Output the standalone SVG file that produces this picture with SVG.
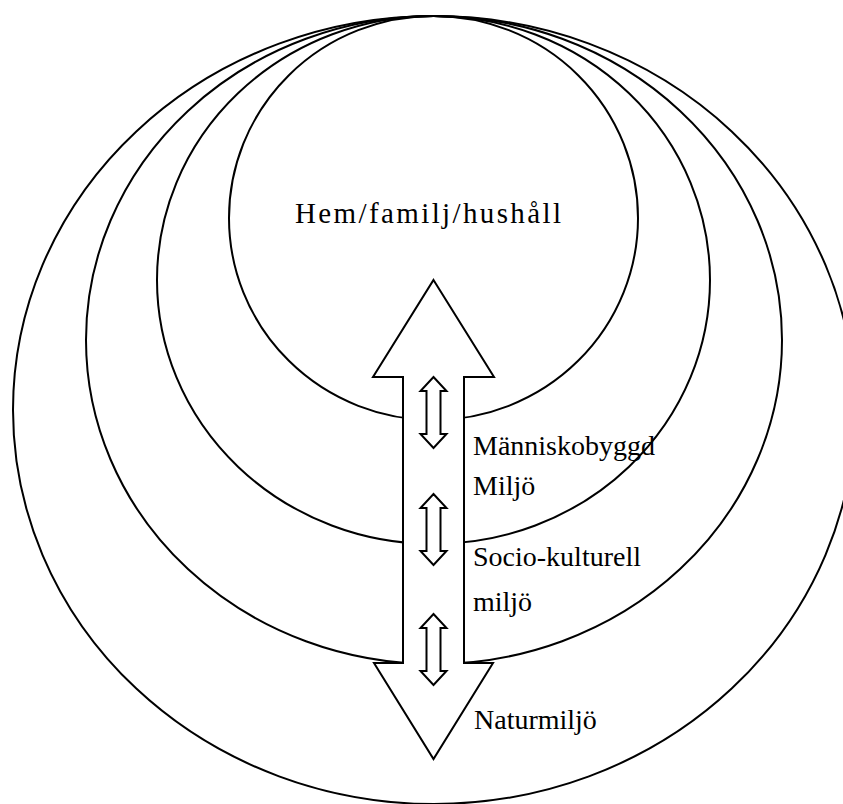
<svg xmlns="http://www.w3.org/2000/svg" xmlns:xlink="http://www.w3.org/1999/xlink" width="843" height="804" viewBox="0 0 843 804">
<style>
.ring{fill:none;stroke:#000;stroke-width:2}
.arr{fill:#fff;stroke:#000;stroke-width:2;stroke-linejoin:miter}
.lbl{font-family:"Liberation Serif","DejaVu Serif",serif;font-size:28px;fill:#000}
</style>
<defs>
<path id="small" d="M0,0 L13,14 L7,14 L7,57 L13,57 L0,71 L-13,57 L-7,57 L-7,14 L-13,14 Z"/>
</defs>
<rect width="843" height="804" fill="#fff"/>
<g id="naturmiljo"><ellipse class="ring" cx="434" cy="410" rx="421" ry="394"/></g>
<g id="sociokulturell"><ellipse class="ring" cx="434" cy="340" rx="348" ry="324"/></g>
<g id="manniskobyggd"><ellipse class="ring" cx="433.5" cy="280" rx="276.5" ry="264"/></g>
<g id="hem"><ellipse class="ring" cx="433.5" cy="218" rx="204.5" ry="202"/></g>
<g id="connectors">
<polygon class="arr" points="433.5,280 494,377 464,377 464,663 493,663 433.5,759 374,663 403,663 403,377 373,377"/>
<use href="#small" xlink:href="#small" class="arr" transform="translate(433.5,377)"/>
<use href="#small" xlink:href="#small" class="arr" transform="translate(433.5,494)"/>
<use href="#small" xlink:href="#small" class="arr" transform="translate(433.5,614)"/>
</g>
<g id="labels">
<text class="lbl" x="428" y="223" text-anchor="middle" textLength="266" lengthAdjust="spacing" style="font-size:29px">Hem/familj/hushåll</text>
<text class="lbl" x="473" y="455">Människobyggd</text>
<text class="lbl" x="473" y="495">Miljö</text>
<text class="lbl" x="473" y="566">Socio-kulturell</text>
<text class="lbl" x="473" y="611">miljö</text>
<text class="lbl" x="474" y="729">Naturmiljö</text>
</g>
</svg>
